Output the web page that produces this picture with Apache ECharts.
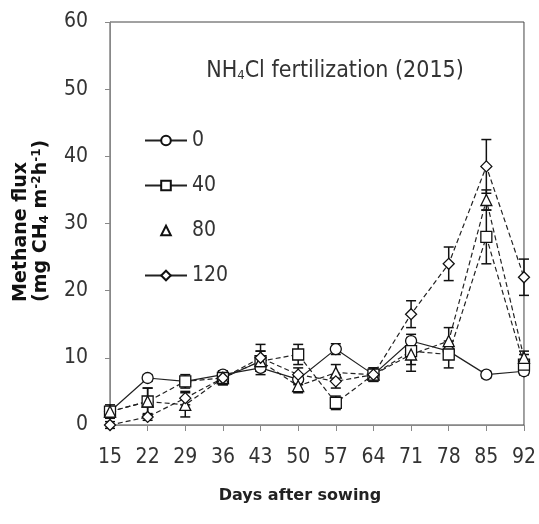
<!DOCTYPE html>
<html>
<head>
<meta charset="utf-8">
<script src="https://cdn.jsdelivr.net/npm/echarts@6/dist/echarts.min.js"></script>
<style>
  html, body { margin: 0; padding: 0; background: #fff; }
  #main { width: 539px; height: 524px; }
</style>
</head>
<body>
<div id="main"></div>
<script>
  // days after sowing
  const days = ['15', '22', '29', '36', '43', '50', '57', '64', '71', '78', '85', '92'];

  // methane flux per N rate (mg CH4 m-2 h-1)
  const flux0 = [2, 7, 6.5, 7.5, 8.5, 6.8, 11.3, 7.5, 12.5, 11, 7.5, 8];
  const flux40 = [2, 3.5, 6.5, 7, 9.5, 10.5, 3.3, 7.5, 11, 10.5, 28, 9];
  const flux80 = [2, 3.5, 3, 7, 9.5, 5.8, 7.8, 7.5, 10.5, 12.5, 33.5, 10];
  const flux120 = [0, 1.2, 4, 7, 10, 7.5, 6.5, 7.5, 16.5, 24, 38.5, 22];

  // error bar half widths
  const err0 = [0.5, 0.5, 0.5, 0.5, 1, 0.8, 0.8, 0.5, 1, 1, 0.5, 0.5];
  const err40 = [1, 2, 1, 1, 1.5, 1.5, 1, 1, 2, 2, 4, 1.5];
  const err80 = [0.5, 2, 1.8, 1, 1.5, 1, 1.2, 1, 2.5, 2, 1.5, 1];
  const err120 = [0.5, 0.5, 1, 0.5, 2, 1, 1, 0.5, 2, 2.5, 4, 2.7];

  const font = '"DejaVu Sans Condensed", "Liberation Sans", Arial, sans-serif';
  const bold = '"DejaVu Sans", sans-serif';

  let myChart = echarts.init(document.getElementById('main'));

  // 误差线
  function errSeries(vals, errs) {
    return {
      type: 'custom',
      silent: true,
      z: 3,
      data: vals.map((v, i) => [i, v, errs[i]]),
      renderItem: function (params, api) {
        let x = api.coord([api.value(0), 0])[0];
        let hi = api.coord([api.value(0), api.value(1) + api.value(2)])[1];
        let lo = api.coord([api.value(0), api.value(1) - api.value(2)])[1];
        let w = 5;
        let st = { stroke: '#111', lineWidth: 1.5 };
        return {
          type: 'group',
          children: [
            { type: 'line', shape: { x1: x, y1: hi, x2: x, y2: lo }, style: st },
            { type: 'line', shape: { x1: x - w, y1: hi, x2: x + w, y2: hi }, style: st },
            { type: 'line', shape: { x1: x - w, y1: lo, x2: x + w, y2: lo }, style: st }
          ]
        };
      }
    };
  }

  function lineSeries(name, vals, symbol, dashed) {
    return {
      name: name,
      type: 'line',
      data: vals,
      symbol: symbol,
      symbolSize: 11,
      z: 4,
      itemStyle: { color: '#fff', borderColor: '#111', borderWidth: 1.3 },
      lineStyle: { color: '#222', width: 1.2, type: dashed ? [5, 3] : 'solid' }
    };
  }

  let option = {
    animation: false,
    title: {
      text: 'NH{s|4}Cl fertilization (2015)',
      left: 330,
      top: 55,
      textAlign: 'center',
      textStyle: {
        fontFamily: font,
        fontSize: 23,
        fontWeight: 'normal',
        color: '#333',
        rich: { s: { fontFamily: font, fontSize: 13, color: '#333', padding: [9, 0, 0, 0] } }
      }
    },
    legend: {
      orient: 'vertical',
      left: 139,
      top: 125,
      itemWidth: 42,
      itemHeight: 12,
      itemGap: 24,
      textStyle: { fontFamily: font, fontSize: 21, color: '#333' },
      data: [
        { name: '0' },
        { name: '40', lineStyle: { type: 'solid' } },
        { name: '80', lineStyle: { opacity: 0 } },
        { name: '120', lineStyle: { type: 'solid' } }
      ]
    },
    graphic: [
      {
        type: 'text',
        x: 31,
        y: 302,
        rotation: Math.PI / 2,
        style: {
          text: '{a|Methane flux}\n{a|(mg CH}{b|4}{a| m}{c|-2}{a|h}{c|-1}{a|)}',
          align: 'left',
          verticalAlign: 'middle',
          fill: '#111',
          rich: {
            a: { fontFamily: bold, fontWeight: 'bold', fontSize: 19, fill: '#111', lineHeight: 20 },
            b: { fontFamily: bold, fontWeight: 'bold', fontSize: 12, fill: '#111', lineHeight: 20, padding: [8, 0, 0, 0] },
            c: { fontFamily: bold, fontWeight: 'bold', fontSize: 12, fill: '#111', lineHeight: 20, padding: [0, 0, 8, 0] }
          }
        }
      }
    ],
    grid: {
      left: 110,
      right: 2,
      top: 22,
      bottom: 99,
      show: true,
      borderColor: '#444',
      borderWidth: 1
    },
    xAxis: {
      type: 'category',
      data: days,
      boundaryGap: false,
      name: 'Days after sowing',
      nameLocation: 'middle',
      nameGap: 63,
      nameTextStyle: { fontFamily: bold, fontWeight: 'bold', fontSize: 16, color: '#222', padding: [0, 34, 0, 0] },
      axisLine: { lineStyle: { color: '#888' } },
      axisTick: { show: true, inside: false, length: 6, lineStyle: { color: '#888' } },
      axisLabel: { fontFamily: font, fontSize: 21, color: '#333', margin: 22 },
      splitLine: { show: false }
    },
    yAxis: {
      type: 'value',
      min: 0,
      max: 60,
      interval: 10,
      axisLine: { show: true, lineStyle: { color: '#888' } },
      axisTick: { show: true, inside: false, length: 5, lineStyle: { color: '#888' } },
      axisLabel: { fontFamily: font, fontSize: 21, color: '#333', margin: 22 },
      splitLine: { show: false }
    },
    series: [
      lineSeries('0', flux0, 'circle', false),
      lineSeries('40', flux40, 'rect', true),
      lineSeries('80', flux80, 'triangle', true),
      lineSeries('120', flux120, 'diamond', true),
      errSeries(flux0, err0),
      errSeries(flux40, err40),
      errSeries(flux80, err80),
      errSeries(flux120, err120)
    ]
  };

  myChart.setOption(option);
</script>
</body>
</html>
